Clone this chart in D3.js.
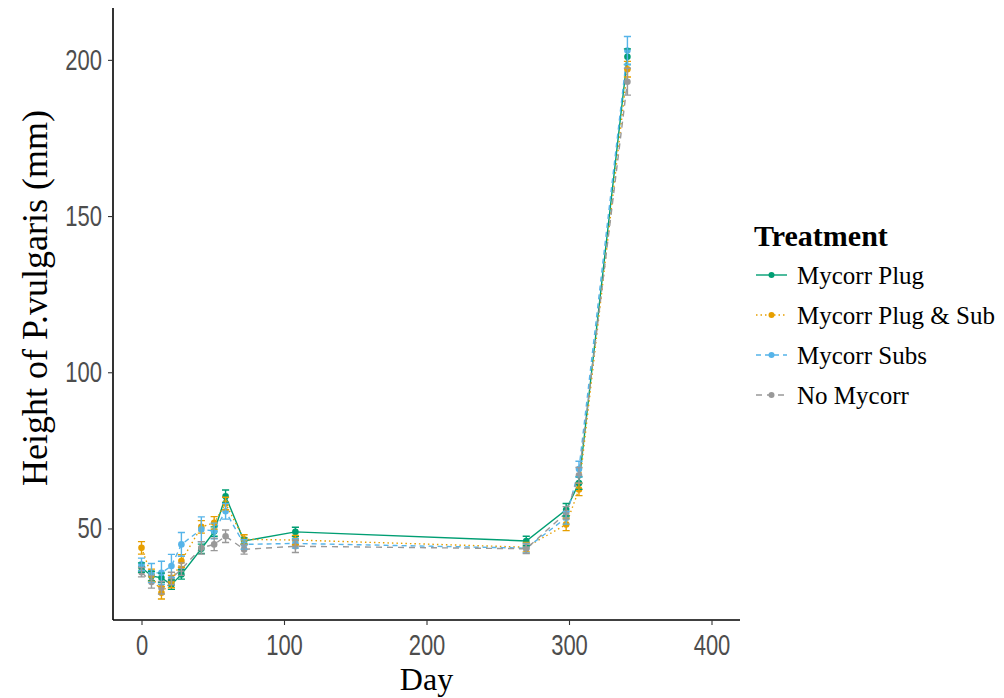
<!DOCTYPE html>
<html>
<head>
<meta charset="utf-8">
<script src="https://cdn.jsdelivr.net/npm/d3@7"></script>
<style>
  body { margin: 0; background: #fff; }
</style>
</head>
<body>
<div id="chart"></div>
<script>
// measurement days
const days = [0, 7, 14, 21, 28, 42, 51, 59, 72, 108, 270, 298, 307, 341];

// mean heights (mm) per treatment
const plugMean    = [37.5, 34.8, 34.2, 32.0, 35.3, 43.5, 49.0, 60.3, 46.0, 48.9, 46.0, 56.0, 64.5, 201.0];
const plugSubMean = [43.8, 35.0, 29.4, 33.0, 39.6, 50.5, 51.8, 58.0, 46.5, 46.3, 44.0, 51.3, 62.5, 197.0];
const subsMean    = [38.5, 35.8, 35.8, 38.0, 44.9, 49.7, 49.2, 55.5, 44.9, 45.2, 43.7, 53.4, 69.0, 203.0];
const noneMean    = [36.0, 32.9, 31.0, 34.0, 37.0, 43.8, 44.9, 47.5, 43.3, 44.3, 43.5, 55.0, 67.0, 193.0];

// standard errors
const plugSE    = [1.5, 1.5, 1.5, 1.5, 1.5, 1.5, 1.5, 2.0, 1.0, 1.5, 1.5, 2.0, 2.0, 2.5];
const plugSubSE = [2.0, 2.0, 2.0, 2.0, 2.0, 2.0, 2.0, 2.0, 1.5, 1.5, 1.5, 2.0, 2.0, 2.5];
const subsSE    = [2.0, 3.0, 3.7, 3.7, 3.8, 4.0, 2.5, 2.5, 1.5, 1.5, 1.5, 2.0, 2.5, 4.5];
const noneSE    = [1.5, 2.0, 2.0, 2.0, 2.0, 2.0, 2.0, 2.0, 1.5, 2.0, 1.5, 2.0, 2.5, 4.3];

const treatments = ['Mycorr Plug', 'Mycorr Plug & Sub', 'Mycorr Subs', 'No Mycorr'];
const colors = ['#009E73', '#E69F00', '#56B4E9', '#999999'];
const dashes = [null, '1.5,3', '5,4', '6,5'];
const xTicks = [0, 100, 200, 300, 400];
const yTicks = [50, 100, 150, 200];

const means = [plugMean, plugSubMean, subsMean, noneMean];
const ses = [plugSE, plugSubSE, subsSE, noneSE];

const series = treatments.map((name, i) => ({
    name: name,
    color: colors[i],
    dash: dashes[i],
    values: days.map((d, j) => ({ day: d, y: means[i][j], se: ses[i][j] }))
}));

const [svgWidth, svgHeight] = [1004, 698];
const panel = { left: 113, right: 740, top: 8, bottom: 620 };
const serif = '"Liberation Serif", "Times New Roman", serif';

let svg = d3.select('#chart').append('svg')
    .attr('width', svgWidth)
    .attr('height', svgHeight)
    .style('font-family', '"Liberation Sans", Arial, sans-serif');

let xScale = d3.scaleLinear().domain([-20, 420]).range([panel.left, panel.right]);
let yScale = d3.scaleLinear().domain([20.7, 216.6]).range([panel.bottom, panel.top]);

// axes
let xAxis = svg.append('g')
    .attr('transform', 'translate(0,' + panel.bottom + ')')
    .call(d3.axisBottom(xScale).tickValues(xTicks).tickSize(5).tickPadding(6));
let yAxis = svg.append('g')
    .attr('transform', 'translate(' + panel.left + ',0)')
    .call(d3.axisLeft(yScale).tickValues(yTicks).tickSize(5).tickPadding(6));

[xAxis, yAxis].forEach(a => {
    a.select('.domain').attr('stroke', '#000').attr('stroke-width', 1.6);
    a.selectAll('.tick line').attr('stroke', '#333').attr('stroke-width', 1.1);
    a.selectAll('.tick text')
        .attr('fill', '#4d4d4d')
        .attr('transform', 'scale(1,1.3)')
        .style('font-size', '22px');
});
xAxis.select('.domain').attr('d', 'M' + panel.left + ',0H' + panel.right);
yAxis.select('.domain').attr('d', 'M0,' + panel.top + 'V' + panel.bottom);

// axis titles
svg.append('text')
    .attr('x', (panel.left + panel.right) / 2)
    .attr('y', 690)
    .attr('text-anchor', 'middle')
    .style('font-family', serif)
    .style('font-size', '32px')
    .text('Day');

svg.append('text')
    .attr('transform', 'translate(47,298) rotate(-90)')
    .attr('text-anchor', 'middle')
    .style('font-family', serif)
    .style('font-size', '36px')
    .text('Height of P.vulgaris (mm)');

// lines
let line = d3.line()
    .x(d => xScale(d.day))
    .y(d => yScale(d.y));

let plot = svg.append('g');

series.forEach(s => {
    plot.append('path')
        .datum(s.values)
        .attr('fill', 'none')
        .attr('stroke', s.color)
        .attr('stroke-width', 1.4)
        .attr('stroke-dasharray', s.dash)
        .attr('d', line);
});

// points
series.forEach(s => {
    plot.selectAll(null)
        .data(s.values)
        .enter().append('circle')
        .attr('cx', d => xScale(d.day))
        .attr('cy', d => yScale(d.y))
        .attr('r', 3.3)
        .attr('fill', s.color);
});

// error bars
const capHalf = 2.5; // in days
series.forEach(s => {
    plot.selectAll(null)
        .data(s.values)
        .enter().append('path')
        .attr('fill', 'none')
        .attr('stroke', s.color)
        .attr('stroke-width', 1.4)
        .attr('d', d => {
            const x0 = xScale(d.day - capHalf), x1 = xScale(d.day + capHalf), xm = xScale(d.day);
            const yt = yScale(d.y + d.se), yb = yScale(d.y - d.se);
            return 'M' + x0 + ',' + yt + 'H' + x1 + 'M' + xm + ',' + yt + 'V' + yb + 'M' + x0 + ',' + yb + 'H' + x1;
        });
});

// legend
let legend = svg.append('g').style('font-family', serif);

legend.append('text')
    .attr('x', 754)
    .attr('y', 246)
    .style('font-size', '30px')
    .style('font-weight', 'bold')
    .text('Treatment');

series.forEach((s, i) => {
    const cy = 275 + i * 40;
    let g = legend.append('g').attr('transform', 'translate(0,' + cy + ')');
    g.append('line')
        .attr('x1', 756).attr('x2', 787)
        .attr('stroke', s.color)
        .attr('stroke-width', 1.4)
        .attr('stroke-dasharray', s.dash);
    g.append('circle')
        .attr('cx', 771.5).attr('cy', 0).attr('r', 3)
        .attr('fill', s.color);
    g.append('text')
        .attr('x', 797)
        .attr('y', 0)
        .attr('dy', '0.35em')
        .style('font-size', '25px')
        .text(s.name);
});
</script>
</body>
</html>
